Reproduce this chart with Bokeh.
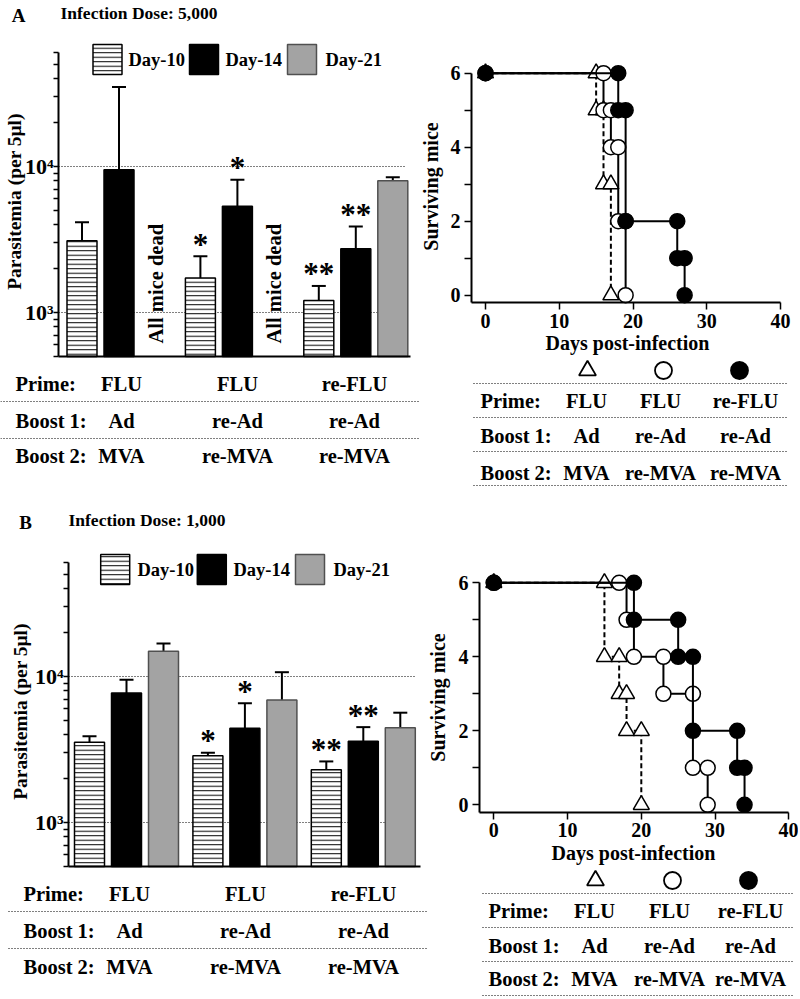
import math
from bokeh.plotting import figure
from bokeh.models import Range1d, LogScale, LinearAxis, LogAxis, FixedTicker
from bokeh.core.properties import value
from bokeh.embed import file_html
from bokeh.resources import INLINE

# ---------------- data ----------------
series = ["Day-10", "Day-14", "Day-21"]
row_labels = ["Prime:", "Boost 1:", "Boost 2:"]
prime = ["FLU", "FLU", "re-FLU"]
boost1 = ["Ad", "re-Ad", "re-Ad"]
boost2 = ["MVA", "re-MVA", "re-MVA"]
dead_text = "All mice dead"
bar_ylabel = "Parasitemia (per 5\u03bcl)"
surv_xlabel = "Days post-infection"
surv_ylabel = "Surviving mice"

# Panel A: infection dose 5,000 (mean and top of error bar)
A_letter = "A"
A_dose = "Infection Dose: 5,000"
A_day10 = [3100, 1720, 1210]
A_day10_err = [4150, 2430, 1520]
A_day14 = [9500, 5350, 2730]
A_day14_err = [35000, 8100, 3880]
A_day21 = [None, None, 8000]
A_day21_err = [None, None, 8450]
A_sig10 = ["", "*", "**"]
A_sig14 = ["", "*", "**"]
A_sig21 = ["", "", ""]

# Panel B: infection dose 1,000
B_letter = "B"
B_dose = "Infection Dose: 1,000"
B_day10 = [3550, 2860, 2300]
B_day10_err = [3900, 3000, 2620]
B_day14 = [7700, 4430, 3600]
B_day14_err = [9500, 6550, 4500]
B_day21 = [14900, 6900, 4450]
B_day21_err = [16800, 10700, 5650]
B_sig10 = ["", "*", "**"]
B_sig14 = ["", "*", "**"]
B_sig21 = ["", "", ""]

y_bottom, y_top = 500, 60000
y_major = [1000, 10000]
y_major_labels = ["10\u00b3", "10\u2074"]
y_minor = [500, 600, 700, 800, 900, 2000, 3000, 4000, 5000, 6000, 7000, 8000, 9000,
           20000, 30000, 40000, 50000, 60000]

surv_x_ticks = [0, 10, 20, 30, 40]
surv_y_ticks = [0, 2, 4, 6]
surv_y_minor = [1, 3, 5]

# survival curves A (step path vertices and marker points)
A_tri_day = [0, 15, 15, 16, 16, 17, 17]
A_tri_n = [6, 6, 5, 5, 3, 3, 0]
A_tri_mk_day = [0, 15, 15, 16, 16, 17, 17]
A_tri_mk_n = [6, 6, 5, 5, 3, 3, 0]
A_open_day = [0, 16, 16, 17, 17, 18, 18, 19, 19]
A_open_n = [6, 6, 5, 5, 4, 4, 2, 2, 0]
A_open_mk_day = [0, 16, 16, 17, 17, 18, 18, 19, 19]
A_open_mk_n = [6, 6, 5, 5, 4, 4, 2, 2, 0]
A_fill_day = [0, 18, 18, 19, 19, 26, 26, 27, 27]
A_fill_n = [6, 6, 5, 5, 2, 2, 1, 1, 0]
A_fill_mk_day = [0, 18, 18, 19, 19, 26, 26, 27, 27]
A_fill_mk_n = [6, 6, 5, 5, 2, 2, 1, 1, 0]

# survival curves B
B_tri_day = [0, 15, 15, 17, 17, 18, 18, 20, 20]
B_tri_n = [6, 6, 4, 4, 3, 3, 2, 2, 0]
B_tri_mk_day = [0, 15, 15, 17, 17, 18, 18, 20, 20]
B_tri_mk_n = [6, 6, 4, 4, 3, 3, 2, 2, 0]
B_open_day = [0, 18, 18, 19, 19, 23, 23, 27, 27, 29, 29]
B_open_n = [6, 6, 5, 5, 4, 4, 3, 3, 1, 1, 0]
B_open_mk_day = [0, 17, 18, 19, 23, 23, 27, 27, 29, 29]
B_open_mk_n = [6, 6, 5, 4, 4, 3, 3, 1, 1, 0]
B_fill_day = [0, 19, 19, 25, 25, 27, 27, 33, 33, 34, 34]
B_fill_n = [6, 6, 5, 5, 4, 4, 2, 2, 1, 1, 0]
B_fill_mk_day = [0, 19, 19, 25, 25, 27, 27, 33, 33, 34, 34]
B_fill_mk_n = [6, 6, 5, 5, 4, 4, 2, 2, 1, 1, 0]

# ---------------- layout ----------------
W, H = 798, 997
OX, OY = 0, 0
UNIT = 37.0            # px per bar slot
GROUP = 3.2            # slots between groups
BAR_W = 30 / UNIT
DEC = 146.0            # px per decade
FONT = value("Liberation Serif")

p = figure(width=W, height=H, x_range=Range1d(OX, OX + W), y_range=Range1d(OY + H, OY),
           x_axis_type=None, y_axis_type=None, toolbar_location=None,
           output_backend="svg", min_border=0, outline_line_color=None)
p.background_fill_color = "white"
p.border_fill_color = "white"


def txt(x, y, s, size="20.5px", align="left", baseline="middle", angle=0.0, **kw):
    p.text(x=x, y=y, text=s, text_font=FONT, text_font_style="bold",
           text_font_size=size, text_align=align, text_baseline=baseline,
           angle=angle, text_color="black", **kw)


def style_axis(ax, tick_out=5, label_size="20px"):
    ax.axis_line_width = 2
    ax.axis_line_color = "black"
    ax.major_tick_out = tick_out
    ax.major_tick_in = 0
    ax.minor_tick_out = tick_out
    ax.minor_tick_in = 0
    ax.major_tick_line_width = 1.5
    ax.minor_tick_line_width = 1.5
    ax.major_label_text_font = "Liberation Serif"
    ax.major_label_text_font_style = "bold"
    ax.major_label_text_font_size = label_size
    ax.major_label_text_color = "black"


bar_styles = [
    dict(fill_color="white", hatch_pattern="horizontal_line", hatch_color="black",
         hatch_scale=4.5, hatch_weight=1, line_color="black"),
    dict(fill_color="black", line_color="black"),
    dict(fill_color="#a3a3a3", line_color="#505050"),
]


def bar_panel(tag, means, errs, sigs, x0, y3, axis_px, end_px, grid_px):
    xr, yr = "bx" + tag, "by" + tag
    p.extra_x_ranges[xr] = Range1d((OX - x0) / UNIT, (OX + W - x0) / UNIT)
    p.extra_y_ranges[yr] = Range1d(10 ** (3 - (OY + H - y3) / DEC), 10 ** (3 + (y3 - OY) / DEC))
    p.extra_y_scales[yr] = LogScale()
    u_axis = (axis_px - x0) / UNIT
    u_end = (end_px - x0) / UNIT
    u_grid = (grid_px - x0) / UNIT
    rk = dict(x_range_name=xr, y_range_name=yr)
    # dotted decade lines
    p.segment(x0=[u_axis] * len(y_major), y0=y_major, x1=[u_grid] * len(y_major), y1=y_major,
              line_dash="1 2", line_color="black", line_width=1, **rk)
    dead_x = []
    for s in range(3):
        xs, tops, ups, sg = [], [], [], []
        for g in range(3):
            u = g * GROUP + s
            if means[s][g] is None:
                dead_x.append(u)
                continue
            xs.append(u)
            tops.append(means[s][g])
            ups.append(errs[s][g])
            sg.append(sigs[s][g])
        p.segment(x0=xs, y0=tops, x1=xs, y1=ups, line_color="black", line_width=2, **rk)
        p.scatter(x=xs, y=ups, marker="dash", size=14, line_color="black", line_width=2, **rk)
        p.vbar(x=xs, top=tops, bottom=y_bottom, width=BAR_W, line_width=1.5, **bar_styles[s], **rk)
        txt(xs, ups, sg, size="31px", align="center", baseline="alphabetic", y_offset=-12, **rk)
    if dead_x:
        txt(dead_x, [y_bottom] * len(dead_x), [dead_text] * len(dead_x), align="left",
            angle=math.pi / 2, y_offset=-13, **rk)
    ya = LogAxis(fixed_location=u_axis, bounds=(y_bottom, y_top),
                 ticker=FixedTicker(ticks=y_major, minor_ticks=y_minor),
                 major_label_overrides=dict(zip(y_major, y_major_labels)),
                 major_label_standoff=0, **rk)
    style_axis(ya, label_size="22px")
    p.add_layout(ya, "left")
    xa = LinearAxis(fixed_location=y_bottom, bounds=(u_axis, u_end),
                    ticker=FixedTicker(ticks=[]), **rk)
    style_axis(xa, tick_out=0)
    p.add_layout(xa, "below")


def surv_panel(tag, curves, x0, ppd, y0, ppn, corner_x, corner_y):
    xr, yr = "sx" + tag, "sy" + tag
    p.extra_x_ranges[xr] = Range1d((OX - x0) / ppd, (OX + W - x0) / ppd)
    p.extra_y_ranges[yr] = Range1d((y0 - (OY + H)) / ppn, (y0 - OY) / ppn)
    rk = dict(x_range_name=xr, y_range_name=yr)
    for (d, n, md, mn, kind) in curves:
        dash = "5 3" if kind == "triangle" else "solid"
        p.line(d, n, line_color="black", line_width=2, line_dash=dash, **rk)
        if kind == "triangle":
            p.scatter(md, mn, marker="triangle", size=16, fill_color="white",
                      line_color="black", line_width=1.5, **rk)
        elif kind == "open":
            p.scatter(md, mn, marker="circle", size=15, fill_color="white",
                      line_color="black", line_width=1.5, **rk)
        else:
            p.scatter(md, mn, marker="circle", size=15, fill_color="black",
                      line_color="black", line_width=1.5, **rk)
    ya = LinearAxis(fixed_location=corner_x, bounds=(corner_y, max(surv_y_ticks)),
                    ticker=FixedTicker(ticks=surv_y_ticks, minor_ticks=surv_y_minor),
                    major_label_standoff=4, **rk)
    style_axis(ya, tick_out=7)
    p.add_layout(ya, "left")
    xa = LinearAxis(fixed_location=corner_y, bounds=(corner_x, max(surv_x_ticks)),
                    ticker=FixedTicker(ticks=surv_x_ticks, minor_ticks=[]),
                    major_label_standoff=4, **rk)
    style_axis(xa, tick_out=7)
    p.add_layout(xa, "below")


def legend(box_x, text_x, y):
    for s in range(3):
        p.rect(x=[box_x[s]], y=[y], width=29, height=30, line_width=1.5, **bar_styles[s])
    txt(text_x, [y] * 3, series, size="18.5px")


def group_table(label_x, col_x, row_y, line_y, line_x0, line_x1, sym=None):
    rows = [prime, boost1, boost2]
    p.segment(x0=[line_x0] * len(line_y), y0=line_y, x1=[line_x1] * len(line_y), y1=line_y,
              line_dash="1 2", line_color="black", line_width=1)
    txt([label_x] * 3, row_y, row_labels)
    for r, vals in enumerate(rows):
        txt(col_x, [row_y[r]] * 3, vals, align="center")
    if sym is not None:
        sx, sy = sym
        p.scatter([sx[0]], [sy], marker="triangle", size=17, fill_color="white",
                  line_color="black", line_width=1.8)
        p.scatter([sx[1]], [sy], marker="circle", size=17, fill_color="white",
                  line_color="black", line_width=1.8)
        p.scatter([sx[2]], [sy], marker="circle", size=17, fill_color="black",
                  line_color="black", line_width=1.8)


# ---------- Panel A ----------
txt([18], [15], [A_letter], size="19px", align="center")
txt([60], [12], [A_dose], size="17.5px")
bar_panel("A", [A_day10, A_day14, A_day21], [A_day10_err, A_day14_err, A_day21_err],
          [A_sig10, A_sig14, A_sig21], x0=81.5, y3=312, axis_px=58, end_px=410, grid_px=405)
legend([107, 203.5, 301.5], [128, 225, 325], 59)
txt([14], [201], [bar_ylabel], size="19.5px", align="center", angle=math.pi / 2)
group_table(15, [121, 237, 354], [383, 420, 455], [401, 438], 0, 420)

surv_panel("A", [(A_tri_day, A_tri_n, A_tri_mk_day, A_tri_mk_n, "triangle"),
                 (A_open_day, A_open_n, A_open_mk_day, A_open_mk_n, "open"),
                 (A_fill_day, A_fill_n, A_fill_mk_day, A_fill_mk_n, "fill")],
           x0=485, ppd=7.375, y0=294.7, ppn=37, corner_x=-1.9, corner_y=-0.2)
txt([430], [186], [surv_ylabel], size="20px", align="center", angle=math.pi / 2)
txt([627], [342], [surv_xlabel], size="20px", align="center")
group_table(480, [586, 660, 745], [400, 435, 472], [383, 417, 451, 485], 473, 787,
            sym=([587, 663, 739], 370))

# ---------- Panel B ----------
txt([25], [522], [B_letter], size="19px", align="center")
txt([68], [519], [B_dose], size="17.5px")
bar_panel("B", [B_day10, B_day14, B_day21], [B_day10_err, B_day14_err, B_day21_err],
          [B_sig10, B_sig14, B_sig21], x0=89, y3=822, axis_px=68, end_px=420, grid_px=415)
legend([114.7, 211.3, 309.5], [137, 233, 333], 569)
txt([20], [711], [bar_ylabel], size="19.5px", align="center", angle=math.pi / 2)
group_table(23, [129, 245, 363], [893, 930, 966], [911, 948], 8, 428)

surv_panel("B", [(B_tri_day, B_tri_n, B_tri_mk_day, B_tri_mk_n, "triangle"),
                 (B_open_day, B_open_n, B_open_mk_day, B_open_mk_n, "open"),
                 (B_fill_day, B_fill_n, B_fill_mk_day, B_fill_mk_n, "fill")],
           x0=493.3, ppd=7.375, y0=804.3, ppn=37, corner_x=-1.94, corner_y=-0.2)
txt([437.5], [697], [surv_ylabel], size="20px", align="center", angle=math.pi / 2)
txt([633], [852], [surv_xlabel], size="20px", align="center")
group_table(488, [594, 669, 750], [910, 945, 978], [893, 927, 961, 995], 482, 792,
            sym=([595, 672, 748], 880))

open("out.html", "w").write(file_html(p, INLINE))
